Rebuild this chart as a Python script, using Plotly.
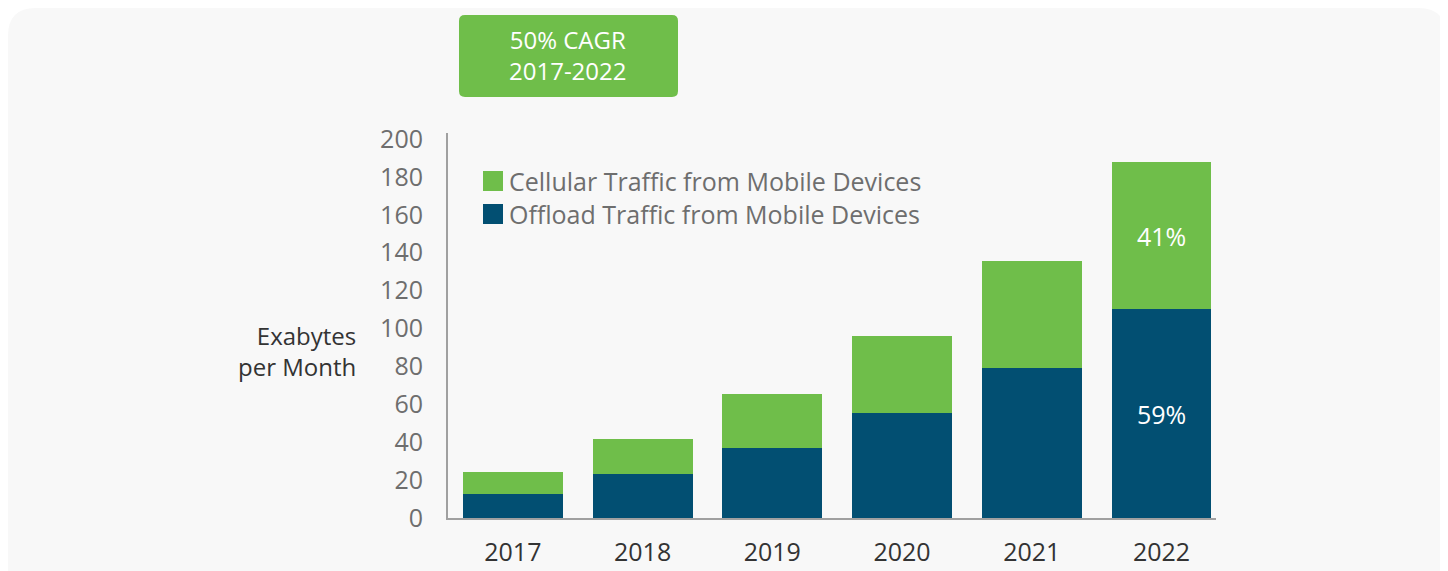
import plotly.graph_objects as go

years = ['2017', '2018', '2019', '2020', '2021', '2022']
offload = [12.7, 23.2, 36.9, 55.4, 79.2, 110.3]
cellular = [11.6, 18.5, 28.5, 40.6, 56.4, 77.6]
offload_pct = ['', '', '', '', '', '59%']
cellular_pct = ['', '', '', '', '', '41%']
y_ticks = [0, 20, 40, 60, 80, 100, 120, 140, 160, 180, 200]

GREEN = '#6fbe4a'
BLUE = '#024f72'
FONT = 'Open Sans'
FS = 25

# page has an 8px body margin, figure sits inside it
OFF = 8
W, H = 1448 - OFF, 571 - OFF
L, R, T, B = 448 - OFF, 232, 133 - OFF, 53
PW, PH = W - L - R, H - T - B


def px(x):
  # page x pixel -> paper
  return (x - OFF - L) / PW


def py(y):
  # page y pixel -> paper
  return (H - B - (y - OFF)) / PH


def rounded_rect(x0, y0, x1, y1, r):
  pts = [
    ('M', [(x0 + r, y0)]),
    ('L', [(x1 - r, y0)]),
    ('Q', [(x1, y0), (x1, y0 + r)]),
    ('L', [(x1, y1 - r)]),
    ('Q', [(x1, y1), (x1 - r, y1)]),
    ('L', [(x0 + r, y1)]),
    ('Q', [(x0, y1), (x0, y1 - r)]),
    ('L', [(x0, y0 + r)]),
    ('Q', [(x0, y0), (x0 + r, y0)]),
  ]
  s = ''
  for cmd, ps in pts:
    s += cmd + ' '.join(f'{px(a):.5f},{py(b):.5f}' for a, b in ps) + ' '
  return s + 'Z'


def label(text, x, y, color, xanchor='left', size=FS, align='left'):
  return dict(text=text, xref='paper', yref='paper', x=px(x), y=py(y),
              xanchor=xanchor, yanchor='middle', showarrow=False, align=align,
              font=dict(color=color, size=size, family=FONT))


fig = go.Figure()
fig.add_trace(go.Bar(x=years, y=offload, name='Offload Traffic from Mobile Devices',
                     marker=dict(color=BLUE, line=dict(width=0)),
                     text=offload_pct, textposition='inside', insidetextanchor='middle',
                     textfont=dict(color='white', size=FS, family=FONT)))
fig.add_trace(go.Bar(x=years, y=cellular, name='Cellular Traffic from Mobile Devices',
                     marker=dict(color=GREEN, line=dict(width=0)),
                     text=cellular_pct, textposition='inside', insidetextanchor='middle',
                     textfont=dict(color='white', size=FS, family=FONT)))

shapes = [
  # background panel
  dict(type='path', xref='paper', yref='paper', path=rounded_rect(8, 8, 1446, 640, 28),
       fillcolor='#f8f8f8', line=dict(width=0), layer='below'),
  # CAGR box
  dict(type='path', xref='paper', yref='paper', path=rounded_rect(459, 15, 678, 97, 6),
       fillcolor=GREEN, line=dict(width=0)),
  # legend swatches
  dict(type='rect', xref='paper', yref='paper', x0=px(483), x1=px(503), y0=py(191), y1=py(171),
       fillcolor=GREEN, line=dict(width=0)),
  dict(type='rect', xref='paper', yref='paper', x0=px(483), x1=px(503), y0=py(224), y1=py(204),
       fillcolor=BLUE, line=dict(width=0)),
]

annotations = [
  label('50% CAGR<br>2017-2022', 568, 55, 'white', 'center', size=24, align='center'),
  label('Cellular Traffic from Mobile Devices', 507, 181, '#6e6e6e'),
  label('Offload Traffic from Mobile Devices', 507, 214, '#6e6e6e'),
  label('Exabytes<br>per Month', 358, 351, '#333333', 'right', size=24, align='right'),
]

fig.update_layout(
  width=W, height=H,
  margin=dict(l=L, r=R, t=T, b=B),
  barmode='stack', bargap=0.23,
  showlegend=False,
  paper_bgcolor='white', plot_bgcolor='rgba(0,0,0,0)',
  shapes=shapes, annotations=annotations,
  font=dict(family=FONT),
  xaxis=dict(range=[-0.5, 5.42], showline=True, linecolor='#a0a0a0', linewidth=2,
             showgrid=False, ticks='', ticklabelstandoff=11, automargin=False,
             tickfont=dict(color='#333333', size=FS, family=FONT)),
  yaxis=dict(range=[0, 203.2], tickvals=y_ticks, showline=True, linecolor='#a0a0a0', linewidth=2,
             showgrid=False, zeroline=False, ticks='', ticklabelstandoff=18, automargin=False,
             tickfont=dict(color='#6e6e6e', size=FS, family=FONT)),
)

fig.write_html('out.html')
